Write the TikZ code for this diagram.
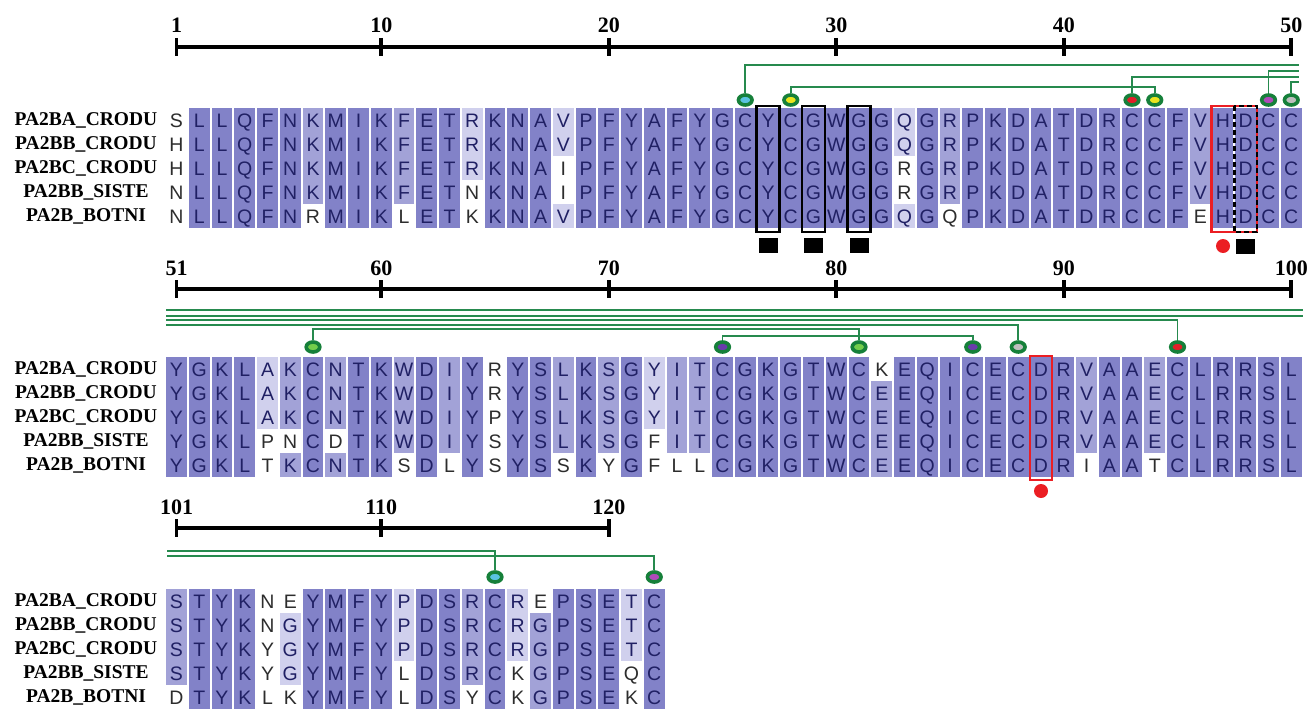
\documentclass[tikz,border=0pt]{standalone}
\usepackage{fontspec}
\setmainfont{Liberation Serif}
\newfontfamily\seqfont{Liberation Sans}
\usepackage{xstring}
\usetikzlibrary{shapes.geometric}
\definecolor{lvtop}{RGB}{130,130,200}
\definecolor{lvmid}{RGB}{162,162,215}
\definecolor{lvlow}{RGB}{208,208,237}
\definecolor{inkin}{RGB}{32,32,100}
\definecolor{inkout}{RGB}{45,45,45}
\definecolor{ssgreen}{RGB}{22,128,58}
\definecolor{bondgreen}{RGB}{38,138,78}
\definecolor{spotcyan}{RGB}{90,195,225}
\definecolor{spotyellow}{RGB}{235,228,30}
\definecolor{spotred}{RGB}{225,30,40}
\definecolor{spotpink}{RGB}{175,75,185}
\definecolor{spotgray}{RGB}{190,190,190}
\definecolor{spotgreen}{RGB}{115,205,75}
\definecolor{spotviolet}{RGB}{105,60,170}
\definecolor{markred}{RGB}{235,30,35}

% centre of column #1 (1..50 inside a block)
\newcommand{\colx}[1]{176.5+(#1-1)*22.75}
% consensus residue and identity level per column (0 none, 1 60%, 2 80%, 3 100%)
\newcommand{\consI}{-LLQFNKMIKFETRKNAVPFYAFYGCYCGWGGQGRPKDATDRCCFVHDCC}
\newcommand{\levI}{03333323332331333133333333333333132333333333323333}
\newcommand{\consII}{YGKLAKCNTKWDIYRYSLKSGYITCGKGTWCEEQICECDRVAAECLRRSL}
\newcommand{\levII}{33331232332323033232312233333332333333332332333333}
\newcommand{\consIII}{STYKNGYMFYPDSRCRGPSETC}
\newcommand{\levIII}{2333013333133231233313}

% one aligned sequence: tag, y, first residue number, residues, consensus, levels
\newcommand{\alnrow}[6]{%
  \StrLen{#4}[\nres]%
  \foreach \k in {1,...,\nres}{%
    \StrChar{#4}{\k}[\resid]\StrChar{#5}{\k}[\rescon]\StrChar{#6}{\k}[\reslev]%
    \def\cllev{0}\ifx\resid\rescon\let\cllev\reslev\fi
    \ifcase\cllev\def\cellfill{white}\def\cellink{inkout}%
    \or\def\cellfill{lvlow}\def\cellink{inkin}%
    \or\def\cellfill{lvmid}\def\cellink{inkin}%
    \or\def\cellfill{lvtop}\def\cellink{inkin}\fi
    \pgfmathsetmacro{\xc}{\colx{\k}}%
    \pgfmathtruncatemacro{\resnum}{#3+\k-1}%
    \fill[fill=\cellfill] (\xc-10.4,#2-12) rectangle (\xc+10.4,#2+12);
    \node[res,text=\cellink] (#1\resnum) at (\xc,#2) {\resid};
  }%
}

\begin{document}
\begin{tikzpicture}[x=1pt,y=-1pt,
  res/.style={font=\seqfont\fontsize{19.5}{19.5}\selectfont,inner sep=0pt,text height=14pt,text depth=0pt},
  seqname/.style={font=\bfseries\fontsize{19.5}{19.5}\selectfont,inner sep=0pt},
  num/.style={font=\bfseries\fontsize{22}{22}\selectfont,inner sep=0pt},
  ruler/.style={line width=3.6pt},
  bond/.style={draw=bondgreen,line width=1.8pt},
  ssdot/.style={ellipse,draw=ssgreen,line width=3.6pt,minimum width=13.6pt,minimum height=10pt,inner sep=0pt},
  motif/.style={draw=black,line width=2.4pt},
  site/.style={draw=markred,line width=2.4pt},
  blksq/.style={fill=black,minimum width=19pt,minimum height=15pt,inner sep=0pt},
  redspot/.style={circle,fill=markred,minimum size=14pt,inner sep=0pt}]
\useasboundingbox (0,0) rectangle (1308,709);

% ---- block 1 (1-50)
\draw[ruler] ({\colx{1}},47) -- ({\colx{50}},47);
\foreach \t in {1,10,20,30,40,50}{
  \draw[ruler] ({\colx{\t}},38) -- ({\colx{\t}},56);
  \node[num] (lab\t) at ({\colx{\t}},25) {\t};
}
\foreach \nm [count=\i] in {PA2BA\_CRODU,PA2BB\_CRODU,PA2BC\_CRODU,PA2BB\_SISTE,PA2B\_BOTNI}
  \node[seqname] (nm\i a) at (86,{96+24*\i}) {\nm};
\alnrow{A}{120}{1}{SLLQFNKMIKFETRKNAVPFYAFYGCYCGWGGQGRPKDATDRCCFVHDCC}{\consI}{\levI}
\alnrow{B}{144}{1}{HLLQFNKMIKFETRKNAVPFYAFYGCYCGWGGQGRPKDATDRCCFVHDCC}{\consI}{\levI}
\alnrow{C}{168}{1}{HLLQFNKMIKFETRKNAIPFYAFYGCYCGWGGRGRPKDATDRCCFVHDCC}{\consI}{\levI}
\alnrow{D}{192}{1}{NLLQFNKMIKFETNKNAIPFYAFYGCYCGWGGRGRPKDATDRCCFVHDCC}{\consI}{\levI}
\alnrow{E}{216}{1}{NLLQFNRMIKLETKKNAVPFYAFYGCYCGWGGQGQPKDATDRCCFEHDCC}{\consI}{\levI}

% calcium loop and active site marks
\foreach \c in {27,29,31}{
  \draw[motif] ({\colx{\c}-11.4},106) rectangle ({\colx{\c}+11.4},232);
  \node[blksq] (sq\c) at ({\colx{\c}},245) {};
}
\draw[site] ({\colx{47}-11.4},106) rectangle ({\colx{48}+11.4},232);
\draw[motif,dash pattern=on 5pt off 3pt] ({\colx{48}-11.4},106) rectangle ({\colx{48}+11.4},232);
\node[redspot] (as47) at ({\colx{47}},246) {};
\node[blksq] (sq48) at ({\colx{48}},246) {};

% cysteines
\node[ssdot,fill=spotcyan] (c26) at ({\colx{26}},100) {};
\node[ssdot,fill=spotyellow] (c28) at ({\colx{28}},100) {};
\node[ssdot,fill=spotred] (c43) at ({\colx{43}},100) {};
\node[ssdot,fill=spotyellow] (c44) at ({\colx{44}},100) {};
\node[ssdot,fill=spotpink] (c49) at ({\colx{49}},100) {};
\node[ssdot,fill=spotgray] (c50) at ({\colx{50}},100) {};
\coordinate (e65) at (1299,65);
\coordinate (e71) at (1299,71);
\coordinate (e77) at (1299,77);
\coordinate (e82) at (1299,82);
\coordinate (h87) at (0,87);
\draw[bond] (c26.north) |- (e65);
\draw[bond] (c49.north) |- (e71);
\draw[bond] (c43.north) |- (e77);
\draw[bond] (c50.north) |- (e82);
\draw[bond] (c28.north) -- (c28.north |- h87) -| (c44.north);

% ---- block 2 (51-100)
\draw[ruler] ({\colx{1}},289) -- ({\colx{50}},289);
\foreach \t in {51,60,70,80,90,100}{
  \draw[ruler] ({\colx{\t-50}},280) -- ({\colx{\t-50}},298);
  \node[num] (lab\t) at ({\colx{\t-50}},268) {\t};
}
\foreach \nm [count=\i] in {PA2BA\_CRODU,PA2BB\_CRODU,PA2BC\_CRODU,PA2BB\_SISTE,PA2B\_BOTNI}
  \node[seqname] (nm\i b) at (86,{345+24*\i}) {\nm};
\alnrow{A}{369}{51}{YGKLAKCNTKWDIYRYSLKSGYITCGKGTWCKEQICECDRVAAECLRRSL}{\consII}{\levII}
\alnrow{B}{393}{51}{YGKLAKCNTKWDIYRYSLKSGYITCGKGTWCEEQICECDRVAAECLRRSL}{\consII}{\levII}
\alnrow{C}{417}{51}{YGKLAKCNTKWDIYPYSLKSGYITCGKGTWCEEQICECDRVAAECLRRSL}{\consII}{\levII}
\alnrow{D}{441}{51}{YGKLPNCDTKWDIYSYSLKSGFITCGKGTWCEEQICECDRVAAECLRRSL}{\consII}{\levII}
\alnrow{E}{465}{51}{YGKLTKCNTKSDLYSYSSKYGFLLCGKGTWCEEQICECDRIAATCLRRSL}{\consII}{\levII}

\draw[site] ({\colx{39}-11},356) rectangle ({\colx{39}+11},480);
\node[redspot] (as89) at ({\colx{39}},491) {};

\node[ssdot,fill=spotgreen] (c57) at ({\colx{7}},347) {};
\node[ssdot,fill=spotviolet] (c75) at ({\colx{25}},347) {};
\node[ssdot,fill=spotgreen] (c81) at ({\colx{31}},347) {};
\node[ssdot,fill=spotviolet] (c86) at ({\colx{36}},347) {};
\node[ssdot,fill=spotgray] (c88) at ({\colx{38}},347) {};
\node[ssdot,fill=spotred] (c95) at ({\colx{45}},347) {};
\coordinate (s310) at (166,310);
\coordinate (e310) at (1303,310);
\coordinate (s316) at (166,316);
\coordinate (e316) at (1303,316);
\coordinate (s320) at (166,320);
\coordinate (s325) at (166,325);
\coordinate (h329) at (0,329);
\coordinate (h336) at (0,336);
\draw[bond] (s310) -- (e310);
\draw[bond] (s316) -- (e316);
\draw[bond] (s320) -| (c95.north);
\draw[bond] (s325) -| (c88.north);
\draw[bond] (c57.north) -- (c57.north |- h329) -| (c81.north);
\draw[bond] (c75.north) -- (c75.north |- h336) -| (c86.north);

% ---- block 3 (101-122)
\draw[ruler] ({\colx{1}},528) -- ({\colx{20}},528);
\foreach \t in {101,110,120}{
  \draw[ruler] ({\colx{\t-100}},519) -- ({\colx{\t-100}},537);
  \node[num] (lab\t) at ({\colx{\t-100}},507) {\t};
}
\foreach \nm [count=\i] in {PA2BA\_CRODU,PA2BB\_CRODU,PA2BC\_CRODU,PA2BB\_SISTE,PA2B\_BOTNI}
  \node[seqname] (nm\i c) at (86,{577+24*\i}) {\nm};
\alnrow{A}{601}{101}{STYKNEYMFYPDSRCREPSETC}{\consIII}{\levIII}
\alnrow{B}{625}{101}{STYKNGYMFYPDSRCRGPSETC}{\consIII}{\levIII}
\alnrow{C}{649}{101}{STYKYGYMFYPDSRCRGPSETC}{\consIII}{\levIII}
\alnrow{D}{673}{101}{STYKYGYMFYLDSRCKGPSEQC}{\consIII}{\levIII}
\alnrow{E}{697}{101}{DTYKLKYMFYLDSYCKGPSEKC}{\consIII}{\levIII}

\node[ssdot,fill=spotcyan] (c115) at ({\colx{15}},577) {};
\node[ssdot,fill=spotpink] (c122) at ({\colx{22}},577) {};
\coordinate (s551) at (167,551);
\coordinate (s556) at (167,556);
\draw[bond] (s551) -| (c115.north);
\draw[bond] (s556) -| (c122.north);
\end{tikzpicture}
\end{document}
